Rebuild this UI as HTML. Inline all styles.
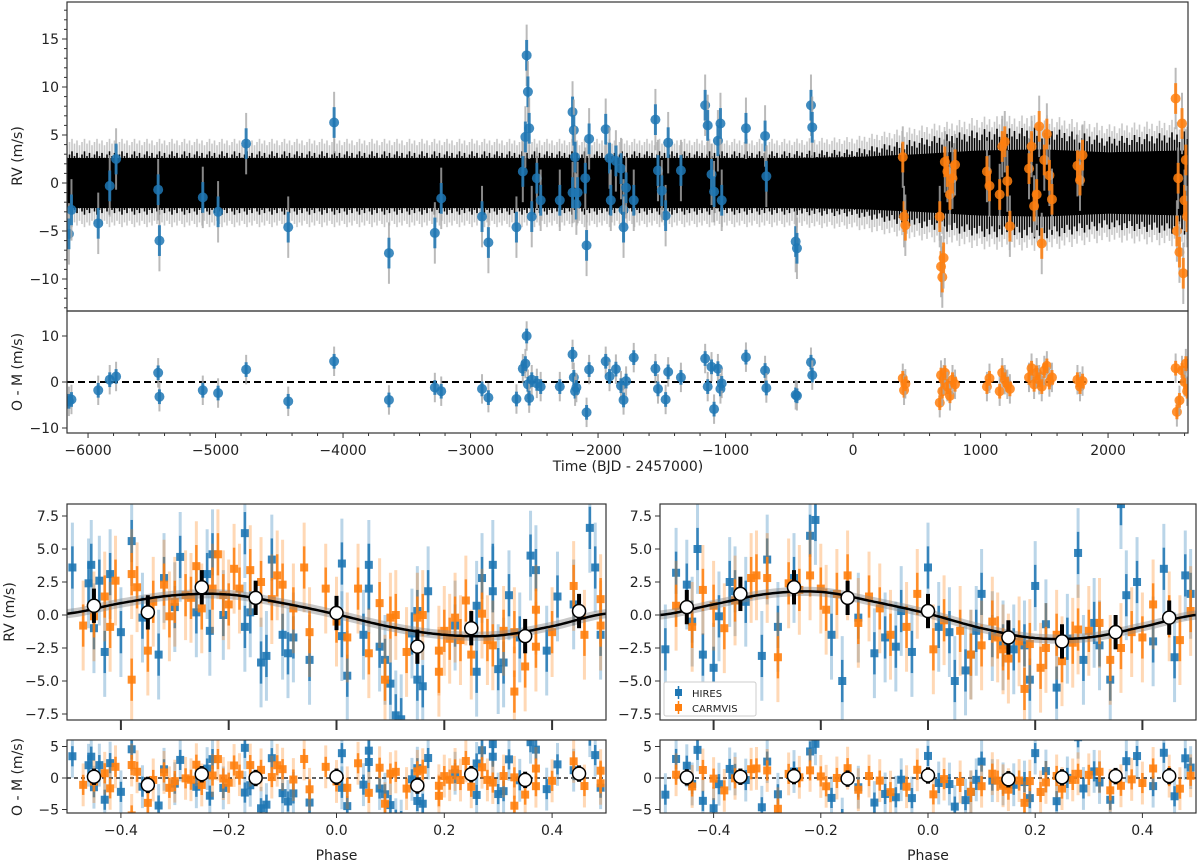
<!DOCTYPE html>
<html><head><meta charset="utf-8"><style>
body{margin:0;background:#fff}
svg{display:block;font-family:"DejaVu Sans","Liberation Sans",sans-serif}
</style></head><body>
<svg id="c" width="1200" height="864" viewBox="0 0 1200 864" xmlns="http://www.w3.org/2000/svg">
<defs>
<clipPath id="cp1"><rect x="67" y="2" width="1121" height="309"/></clipPath>
<clipPath id="cp2"><rect x="67" y="311" width="1121" height="122"/></clipPath>
<clipPath id="cpL1"><rect x="67" y="504" width="539" height="216"/></clipPath>
<clipPath id="cpL2"><rect x="67" y="740" width="539" height="73"/></clipPath>
<clipPath id="cpR1"><rect x="660" y="504" width="536" height="216"/></clipPath>
<clipPath id="cpR2"><rect x="660" y="740" width="536" height="73"/></clipPath>
</defs>
</svg>
<script>
// ---- Time series data ----
const hiresT=[-6150,-6130,-5920,-5830,-5780,-5450,-5440,-5100,-4980,-4760,-4430,-4070,-3640,-3280,-3230,-2910,-2860,-2640,-2590,-2570,-2560,-2550,-2540,-2520,-2480,-2450,-2300,-2200,-2190,-2180,-2170,-2160,-2090,-2070,-1940,-1910,-1860,-1820,-1800,-1780,-1720,-1550,-1530,-1470,-1450,-1350,-1160,-1140,-1110,-1090,-1060,-1040,-1030,-840,-690,-680,-450,-440,-330,-320,-2200,-2100,-1800,-1900,-1500];
const hiresRV=[-5.3,-2.8,-4.2,-0.3,2.5,-0.7,-6,-1.5,-3.0,4.1,-4.6,6.3,-7.3,-5.2,-1.6,-3.5,-6.2,-4.6,1.2,4.8,13.3,9.5,5.7,-3.5,0.5,-1.8,-1.8,7.4,5.5,2.7,-2.2,-1.0,-6.5,4.6,5.6,2.6,2.3,1.5,-2.8,-0.5,-1.8,6.6,1.3,-3.4,4.2,1.3,8.1,6.0,0.9,-0.9,4.4,6.2,-1.8,5.7,4.9,0.7,-6.1,-6.8,8.1,5.8,-1.0,0.5,-4.6,-1.8,-0.8];
const carmT=[390,400,410,680,690,700,710,720,740,760,780,800,1050,1070,1150,1170,1190,1210,1230,1380,1400,1420,1440,1460,1480,1500,1520,1540,1560,1760,1780,1800,2530,2540,2560,2580,2600,2610,2620,2550,2590];
const carmRV=[2.7,-3.5,-4.4,-3.5,-8.7,-9.8,-7.8,2.2,1.2,-1.2,0.5,1.9,1.2,-0.3,-1.2,3.8,4.3,0.2,-4.5,1.5,3.8,-2.4,-1.2,5.9,-6.3,2.4,5.1,0.8,-1.7,1.8,0.3,2.9,8.8,-5.0,-7.2,6.2,-1.8,2.4,-3.5,0.5,-9.4];
const hiresResT=[-6150,-6130,-5920,-5830,-5780,-5450,-5440,-5100,-4980,-4760,-4430,-4070,-3640,-3280,-3230,-2910,-2860,-2640,-2590,-2570,-2560,-2550,-2540,-2520,-2480,-2450,-2300,-2200,-2190,-2180,-2170,-2090,-2070,-1940,-1910,-1860,-1820,-1800,-1780,-1720,-1550,-1530,-1470,-1450,-1350,-1160,-1140,-1110,-1090,-1060,-1040,-1030,-840,-690,-680,-450,-440,-330,-320];
const hiresRes=[-4.2,-3.8,-1.8,0.5,1.2,2.0,-3.2,-1.8,-2.4,2.7,-4.2,4.5,-3.9,-1.2,-2.0,-1.5,-3.4,-3.7,2.9,4.0,10.0,-0.5,-3.5,0.5,-0.3,-1.0,-1.0,6.0,1.0,-2.0,-1.2,-6.6,2.7,4.5,1.2,2.8,-0.8,-3.9,0.2,5.3,2.9,-1.5,-3.8,2.2,1.0,5.1,-1.0,3.3,-5.9,2.9,-1.5,-0.3,5.4,2.5,-1.3,-2.8,-3.0,4.3,1.5];
const carmResT=[390,400,410,680,690,700,710,720,740,760,780,800,1050,1070,1150,1170,1190,1210,1230,1380,1400,1420,1440,1460,1480,1500,1520,1540,1560,1760,1780,1800,2530,2540,2560,2580,2600,2610,2620];
const carmRes=[0.8,-1.8,-0.4,-4.5,1.5,-2.0,0.5,2.0,-1.0,-3.0,0.5,-0.5,-1.0,0.8,-2.0,2.0,0.5,-0.5,-1.5,1.0,3.0,-0.5,2.0,0.5,-1.0,2.5,3.5,0.0,1.0,0.5,-1.0,0.2,3.0,-6.5,-4.0,2.5,0.0,4.0,-2.0];
const envT=[-6165,-3000,-500,0,500,1000,1500,2000,2627];
const envCore=[2.6,2.6,2.6,2.7,3.0,3.4,3.5,3.2,3.4];
const envSpike=[3.3,3.3,3.3,3.5,4.6,5.6,5.8,4.8,5.4];
const timeTicks=[-6000,-5000,-4000,-3000,-2000,-1000,0,1000,2000];
const rvTicks=[15,10,5,0,-5,-10];
const resTicks=[10,0,-10];
// ---- Phase data ----
const phaseTicks=[-0.4,-0.2,0.0,0.2,0.4];
const phaseTickLabels=["\u22120.4","\u22120.2","0.0","0.2","0.4"];
const prvTicks=[7.5,5.0,2.5,0.0,-2.5,-5.0,-7.5];
const presTicks=[5,0,-5];
const modelPh=[-0.5,-0.4,-0.3,-0.2,-0.1,0,0.1,0.2,0.3,0.4,0.5];
const modelL=[0.1,0.9,1.5,1.55,0.9,0.05,-0.9,-1.5,-1.55,-0.85,0.1];
const modelR=[0.0,0.8,1.6,1.75,1.0,0.1,-1.0,-1.75,-1.7,-0.9,0.0];
const binPh=[-0.45,-0.35,-0.25,-0.15,0.0,0.15,0.25,0.35,0.45];
const binL=[0.7,0.2,2.1,1.3,0.15,-2.4,-1.0,-1.6,0.3];
const binR=[0.6,1.6,2.1,1.3,0.3,-1.7,-2.0,-1.3,-0.2];
const binResL=[0.2,-1.1,0.6,0.0,0.2,-1.2,0.6,-0.3,0.7];
const binResR=[0.1,0.2,0.3,-0.1,0.4,-0.2,0.1,0.3,0.3];
const lbPh=[-0.49,-0.46,-0.455,-0.45,-0.44,-0.43,-0.42,-0.40,-0.38,-0.36,-0.33,-0.32,-0.30,-0.29,-0.26,-0.24,-0.23,-0.235,-0.21,-0.17,-0.17,-0.14,-0.13,-0.12,-0.10,-0.09,-0.05,0.01,0.01,0.02,0.05,0.06,0.06,0.08,0.09,0.10,0.11,0.12,0.15,0.15,0.16,0.17,0.22,0.26,0.26,0.27,0.29,0.29,0.30,0.31,0.32,0.34,0.36,0.37,0.39,0.41,0.44,0.47,0.48,0.49,-0.08,-0.16,0.14];
const lbRV=[3.6,2.4,3.8,-1.0,2.6,-2.8,3.1,-1.3,5.6,-0.2,-3.0,2.8,0.6,4.4,0.2,3.1,4.6,-1.2,0.0,6.2,-0.9,-3.6,-3.1,4.2,-1.5,-2.9,-3.4,-1.6,3.9,-4.6,-1.5,3.8,2.0,-2.4,-3.4,-5.2,-7.6,-7.9,0.3,-4.9,-5.4,1.8,-0.8,0.7,-4.3,2.8,3.8,1.8,-4.1,-3.6,1.5,-1.7,4.5,3.4,-2.7,1.4,0.8,6.6,3.6,-1.5,-1.7,0.2,-1.4];
const loPh=[-0.47,-0.45,-0.43,-0.42,-0.41,-0.38,-0.38,-0.37,-0.35,-0.34,-0.32,-0.31,-0.30,-0.28,-0.26,-0.25,-0.23,-0.22,-0.21,-0.20,-0.19,-0.18,-0.16,-0.14,-0.12,-0.11,-0.10,-0.08,-0.06,-0.05,-0.02,0.0,0.02,0.04,0.06,0.08,0.09,0.10,0.11,0.13,0.15,0.16,0.19,0.19,0.21,0.22,0.23,0.24,0.25,0.27,0.28,0.29,0.33,0.33,0.35,0.37,0.37,0.40,0.44,0.46,0.49,0.49,-0.27,0.20,0.31];
const loRV=[-0.8,-0.1,1.4,-0.9,2.6,-4.9,3.1,2.1,-2.7,1.0,2.3,-0.1,1.0,1.5,3.7,0.5,2.0,4.6,1.5,0.8,3.5,2.0,3.4,2.5,1.2,3.0,2.3,0.5,3.6,-1.3,2.0,-0.5,-1.7,2.0,-2.9,0.9,-4.9,-0.2,0.0,-2.8,-0.2,0.0,-2.7,-4.3,-1.8,-0.2,-1.9,1.1,-3.0,0.1,-1.9,-2.3,-5.8,-1.3,-3.9,0.4,-2.4,-1.3,2.2,-1.5,1.2,-0.8,1.3,-1.2,-1.2];
const rbPh=[-0.49,-0.47,-0.45,-0.44,-0.43,-0.42,-0.40,-0.39,-0.37,-0.34,-0.31,-0.30,-0.28,-0.25,-0.22,-0.21,-0.18,-0.16,-0.13,-0.10,-0.08,-0.05,-0.03,0.0,0.02,0.04,0.05,0.08,0.09,0.10,0.12,0.14,0.16,0.18,0.19,0.20,0.22,0.24,0.26,0.28,0.29,0.31,0.32,0.34,0.37,0.39,0.42,0.44,0.46,0.48,0.49,-0.06,0.07,0.36,-0.36];
const rbRV=[-2.6,3.2,2.3,-0.5,5.0,-3.0,-4.0,-0.1,2.5,1.0,-3.1,4.2,-0.9,2.8,6.0,7.2,-1.5,-5.0,-0.2,-2.9,-1.7,0.3,-2.8,3.6,-0.9,-1.3,-5.0,-3.0,-1.2,1.6,-1.6,-2.3,-2.6,-2.3,-4.9,2.2,-0.7,-5.5,-1.8,4.7,-3.4,-0.6,-2.3,-4.9,1.5,2.5,-2.0,3.5,-3.2,3.0,1.6,-2.4,-4.2,8.4,1.8];
const roPh=[-0.47,-0.44,-0.42,-0.40,-0.38,-0.36,-0.33,-0.32,-0.30,-0.28,-0.26,-0.24,-0.22,-0.20,-0.19,-0.17,-0.15,-0.13,-0.11,-0.09,-0.07,-0.04,-0.02,0.01,0.03,0.06,0.08,0.10,0.12,0.13,0.15,0.17,0.18,0.19,0.21,0.22,0.24,0.25,0.27,0.30,0.32,0.34,0.36,0.38,0.40,0.42,0.45,0.47,0.49,0.14,0.28];
const roRV=[0.7,-0.9,1.9,0.7,-1.0,1.1,2.8,3.0,2.8,-3.2,2.4,1.9,3.0,2.0,0.4,1.6,3.0,-0.6,1.4,0.5,-1.5,-0.9,1.6,-2.6,-0.4,-1.2,-3.0,-2.3,-0.5,-1.7,-3.3,-2.0,-5.6,-2.2,-4.0,-2.5,-1.5,-3.5,-2.1,-1.2,-0.6,-3.4,-2.5,-1.3,-1.7,0.8,-0.1,-1.9,0.3,-2.6,-1.1];

const NS="http://www.w3.org/2000/svg";
const svg=document.getElementById('c');
function mk(tag,attrs,parent){const e=document.createElementNS(NS,tag);for(const k in attrs)e.setAttribute(k,attrs[k]);(parent||svg).appendChild(e);return e;}
function lin(d0,d1,r0,r1){return v=>r0+(v-d0)*(r1-r0)/(d1-d0);}
function interp(xs,ys,x){for(let i=0;i<xs.length-1;i++){if(x<=xs[i+1]){const t=(x-xs[i])/(xs[i+1]-xs[i]);return ys[i]+t*(ys[i+1]-ys[i]);}}return ys[ys.length-1];}
function catmull(xs,ys,x){let i=0;while(i<xs.length-2&&x>xs[i+1])i++;const p0=ys[Math.max(i-1,0)],p1=ys[i],p2=ys[i+1],p3=ys[Math.min(i+2,ys.length-1)];const t=(x-xs[i])/(xs[i+1]-xs[i]);return 0.5*((2*p1)+(-p0+p2)*t+(2*p0-5*p1+4*p2-p3)*t*t+(-p0+3*p1-3*p2+p3)*t*t*t);}
const BLUE="#1f77b4",ORANGE="#ff7f0e";

function frame(x0,y0,x1,y1,name){const r=mk('rect',{x:x0,y:y0,width:x1-x0,height:y1-y0,fill:'none',stroke:'#333','stroke-width':1.2});

}
function yTicks(x0,sy,ticks,labels,fs,name){const g=mk('g',{});


ticks.forEach((t,i)=>{const y=sy(t);mk('line',{x1:x0-5,x2:x0,y1:y,y2:y,stroke:'#333','stroke-width':1},g);const tx=mk('text',{x:x0-8,y:y+5,'text-anchor':'end','font-size':fs,fill:'#222'},g);tx.textContent=labels?labels[i]:String(t).replace('-','\u2212');});}
function xTicks(y1,sx,ticks,labels,fs,name,len){const g=mk('g',{});


ticks.forEach((t,i)=>{const x=sx(t);mk('line',{x1:x,x2:x,y1:y1,y2:y1+(len||5),stroke:'#333','stroke-width':len?2:1},g);if(labels){const tx=mk('text',{x:x,y:y1+22,'text-anchor':'middle','font-size':fs,fill:'#222'},g);tx.textContent=labels[i];}});}
function ylabel(x,y,txt,name){const t=mk('text',{x:x,y:y,'text-anchor':'middle','font-size':14,fill:'#222',transform:`rotate(-90 ${x} ${y})`});t.textContent=txt;

}
function xlabel(x,y,txt,name){const t=mk('text',{x:x,y:y,'text-anchor':'middle','font-size':14,fill:'#222'});t.textContent=txt;

}

// ===== Top panel =====
const sxT=lin(-6165,2627,67,1188);
const syT=lin(0,1,183,173.4);
const syTR=lin(0,1,382,377.4);
{
 const g=mk('g',{'clip-path':'url(#cp1)'});
 
 
 let i=0;
 for(let x=67;x<=1188;x+=2.5,i++){const t=(x-67)/1121*8792-6165;const s=interp(envT,envSpike,t);const f=0.8+0.2*(((i*7)%5)/4);const a=s*f;
  mk('line',{x1:x,x2:x,y1:syT(a+1.3),y2:syT(-a-1.3),stroke:'#c8c8c8','stroke-width':1.6},g);
 }
 i=0;
 for(let x=67;x<=1188;x+=2.5,i++){const t=(x-67)/1121*8792-6165;const s=interp(envT,envSpike,t);const f=0.8+0.2*(((i*7)%5)/4);const a=s*f;
  mk('line',{x1:x,x2:x,y1:syT(a),y2:syT(-a),stroke:'#000','stroke-width':1.6},g);
 }
 let ub='',db='';
 for(let x=67;x<=1188;x+=4){const t=(x-67)/1121*8792-6165;const b=interp(envT,envCore,t);ub+=`${x},${syT(b)} `;db=`${x},${syT(-b)} `+db;}
 mk('polygon',{points:ub+db,fill:'#000'},g);
 const pts=mk('g',{'clip-path':'url(#cp1)'});
 
 
 const draw=(T,V,c,nm)=>T.forEach((t,i)=>{mk('line',{x1:sxT(t),x2:sxT(t),y1:syT(V[i]-3.2),y2:syT(V[i]+3.2),stroke:'#aaa','stroke-width':2,opacity:0.8},pts);mk('line',{x1:sxT(t),x2:sxT(t),y1:syT(V[i]-1.6),y2:syT(V[i]+1.6),stroke:c,'stroke-width':3,opacity:0.85},pts);const p=mk('circle',{cx:sxT(t),cy:syT(V[i]),r:5,fill:c,opacity:0.85},pts);
 
 });
 draw(hiresT,hiresRV,BLUE,'hires-point');
 draw(carmT,carmRV,ORANGE,'carmvis-point');
 frame(67,2,1188,311,'rv-time-axes');
 yTicks(67,syT,rvTicks,null,14,'rv-y-ticks');
 const mg=mk('g',{});
 for(let v=-13;v<=18;v++){if(v%5)mk('line',{x1:64,x2:67,y1:syT(v),y2:syT(v),stroke:'#333'},mg);}
 ylabel(22,156,'RV (m/s)','rv-y-title');
}
// residual time panel
{
 const g=mk('g',{'clip-path':'url(#cp2)'});
 
 
 mk('line',{x1:67,x2:1188,y1:syTR(0),y2:syTR(0),stroke:'#000','stroke-width':2,'stroke-dasharray':'7,4'},g);
 const draw=(T,V,c,nm)=>T.forEach((t,i)=>{mk('line',{x1:sxT(t),x2:sxT(t),y1:syTR(V[i]-3.2),y2:syTR(V[i]+3.2),stroke:'#aaa','stroke-width':2,opacity:0.8},g);mk('line',{x1:sxT(t),x2:sxT(t),y1:syTR(V[i]-1.6),y2:syTR(V[i]+1.6),stroke:c,'stroke-width':3,opacity:0.85},g);const p=mk('circle',{cx:sxT(t),cy:syTR(V[i]),r:5,fill:c,opacity:0.85},g);
 
 });
 draw(hiresResT,hiresRes,BLUE,'hires-residual');
 draw(carmResT,carmRes,ORANGE,'carmvis-residual');
 frame(67,311,1188,433,'residual-time-axes');
 yTicks(67,syTR,resTicks,null,14,'residual-y-ticks');
 xTicks(433,sxT,timeTicks,timeTicks.map(v=>String(v).replace('-','\u2212')),14,'time-x-ticks');
 const mg=mk('g',{});
 for(let v=-6000;v<=2600;v+=200){if(v%1000)mk('line',{x1:sxT(v),x2:sxT(v),y1:433,y2:436,stroke:'#333'},mg);}
 ylabel(22,372,'O - M (m/s)','residual-time-y-title');
 xlabel(628,471,'Time (BJD - 2457000)','time-x-title');
}

// ===== Phase panels =====
function phasePanel(x0,x1,clip1,clip2,model,bPh,bRV,oPh,oRV,bins,binRes,side){
 const sx=lin(-0.5,0.5,x0,x1);
 const sy=lin(0,1,615,601.8);
 const sr=lin(0,1,778,771.7);
 const g=mk('g',{'clip-path':`url(#${clip1})`});
 
 
 const gr=mk('g',{'clip-path':`url(#${clip2})`});
 
 
 mk('line',{x1:x0,x2:x1,y1:sr(0),y2:sr(0),stroke:'#000','stroke-width':1.2,'stroke-dasharray':'4,3'},gr);
 const draw=(P,V,c,nm)=>P.forEach((p,i)=>{const x=sx(p),v=V[i],r=v-catmull(modelPh,model,p);
  [[g,sy,v],[gr,sr,r]].forEach(([gg,s,val])=>{mk('line',{x1:x,x2:x,y1:s(val-3.4),y2:s(val+3.4),stroke:c,'stroke-width':3,opacity:0.3},gg);mk('line',{x1:x,x2:x,y1:s(val-1.6),y2:s(val+1.6),stroke:c,'stroke-width':2.5,opacity:0.85},gg);const q=mk('rect',{x:x-4,y:s(val)-4,width:8,height:8,fill:c,opacity:0.9},gg);
  
  });});
 draw(bPh,bRV,BLUE,'hires-phase-point');
 draw(oPh,oRV,ORANGE,'carmvis-phase-point');
 let d='',band1='',band2='';
 for(let p=-0.5;p<=0.5001;p+=0.005){const v=catmull(modelPh,model,p);d+=(d?'L':'M')+sx(p).toFixed(1)+','+sy(v).toFixed(1);band1+=`${sx(p)},${sy(v+0.35)} `;band2=`${sx(p)},${sy(v-0.35)} `+band2;}
 mk('polygon',{points:band1+band2,fill:'#888',opacity:0.45},g);
 const ml=mk('path',{d:d,fill:'none',stroke:'#000','stroke-width':2.5},g);
 
 
 bins.forEach((v,i)=>{const x=sx(binPh[i]);mk('line',{x1:x,x2:x,y1:sy(v-1.3),y2:sy(v+1.3),stroke:'#000','stroke-width':4},g);const c=mk('circle',{cx:x,cy:sy(v),r:6.5,fill:'#fff',stroke:'#000','stroke-width':1.5},g);
  
  });
 binRes.forEach((v,i)=>{const x=sx(binPh[i]);mk('line',{x1:x,x2:x,y1:sr(v-1.3),y2:sr(v+1.3),stroke:'#000','stroke-width':4},gr);const c=mk('circle',{cx:x,cy:sr(v),r:6.5,fill:'#fff',stroke:'#000','stroke-width':1.5},gr);
  
  });
 frame(x0,504,x1,720,side+'-phase-rv-axes');
 frame(x0,740,x1,813,side+'-phase-residual-axes');
 yTicks(x0,sy,prvTicks,prvTicks.map(v=>v.toFixed(1).replace('-','\u2212')),14,side+'-phase-rv-y-ticks');
 yTicks(x0,sr,presTicks,presTicks.map(v=>String(v).replace('-','\u2212')),14,side+'-phase-res-y-ticks');
 xTicks(720,sx,phaseTicks,null,14,side+'-phase-rv-x-ticks',10);
 xTicks(813,sx,phaseTicks,phaseTickLabels,14,side+'-phase-x-ticks');
 xlabel((x0+x1)/2,860,'Phase',side+'-phase-x-title');
}
phasePanel(67,606,'cpL1','cpL2',modelL,lbPh,lbRV,loPh,loRV,binL,binResL,'left');
phasePanel(660,1196,'cpR1','cpR2',modelR,rbPh,rbRV,roPh,roRV,binR,binResR,'right');
ylabel(14,612,'RV (m/s)','phase-rv-y-title');
ylabel(22,777,'O - M (m/s)','phase-residual-y-title');

// legend
{
 const g=mk('g',{});
 
 
 mk('rect',{x:664,y:682,width:92,height:34,fill:'#fff',stroke:'#ccc',rx:2},g);
 [['HIRES',BLUE,693],['CARMVIS',ORANGE,708]].forEach(([n,c,y])=>{mk('rect',{x:675,y:y-4,width:7,height:7,fill:c},g);mk('line',{x1:678.5,x2:678.5,y1:y-7,y2:y+6,stroke:c,'stroke-width':1.5},g);const t=mk('text',{x:692,y:y+4,'font-size':10,fill:'#222'},g);t.textContent=n;
 
 });
}
</script>
</body></html>
